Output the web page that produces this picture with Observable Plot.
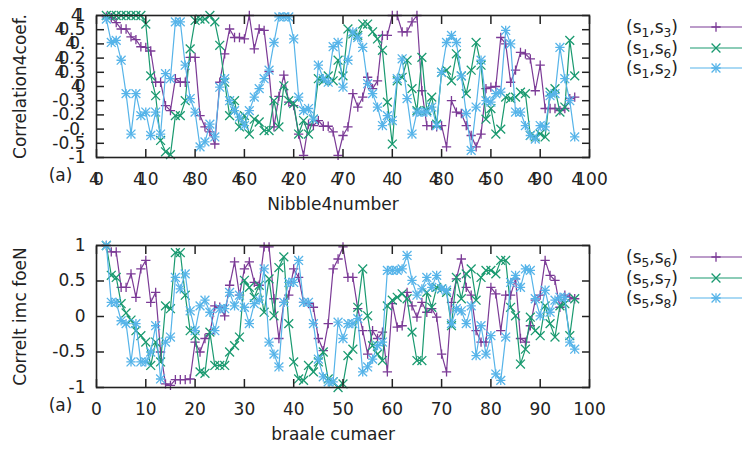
<!DOCTYPE html>
<html><head><meta charset="utf-8">
<script src="https://cdn.jsdelivr.net/npm/d3@7"></script>
<script src="https://cdn.jsdelivr.net/npm/@observablehq/plot@0.6"></script>
<style>
body{margin:0;background:#fff;font-family:"DejaVu Sans",sans-serif;}
#wrap{position:relative;width:742px;height:450px;overflow:hidden;background:#fff;}
.panel{position:absolute;left:0;}
.legend{position:absolute;left:600px;width:142px;color:#222;font-size:17px;}
.row{position:absolute;left:0;width:142px;height:20px;display:flex;align-items:center;}
.row .lab{width:78px;text-align:right;white-space:nowrap;line-height:20px;}
.row .lab sub{font-size:0.72em;vertical-align:-0.3em;line-height:0;}
.row svg{margin-left:12px;flex:none;}
</style></head>
<body><div id="wrap"></div>
<script>
const nibble = d3.range(2, 98);

const xTicks = [0,10,20,30,40,50,60,70,80,90,100];
const topXLabels = ["40","410","430","460","420","470","4 0","480","450","490","4100"];
const topYTicks = [1,0.8,0.6,0.4,0.2,0,-0.2,-0.4,-0.6,-0.8,-1];
const topYLabels = ["41","40.5","40.","40.2","40.3","40","-0.3","-0.2","-0.","-0.5","-1"];
const botXLabels = ["0","10","20","30","40","50","60","70","80","90","100"];
const botYTicks = [1,0.5,0,-0.5,-1];
const botYLabels = ["1","0.5","0","-0.5","-1"];

const topXTitle = "Nibble4number";
const topYTitle = "Correlation4coef.";
const botXTitle = "braale cumaer";
const botYTitle = "Correlt imc foeN";
const panelTag = "(a)";

const topKeys = [["1","3"],["1","6"],["1","2"]];
const botKeys = [["5","6"],["5","7"],["5","8"]];

const topS13 = [0.98,0.97,0.90,0.81,0.81,0.70,0.66,0.56,0.55,0.50,
0.06,0.06,-0.27,-0.34,0.11,0.06,0.06,0.41,0.41,-0.41,
-0.57,-0.64,-0.81,0.06,0.46,0.81,0.69,0.69,0.67,1.0,
0.53,0.81,0.79,0.21,-0.57,-0.14,0.16,-0.22,-0.27,-0.67,
-0.97,-0.53,-0.55,-0.48,-0.56,-0.56,-0.64,-0.97,-0.69,-0.57,
-0.10,-0.29,-0.15,0.13,-0.03,0.08,0.72,0.72,1.0,1.0,
0.77,0.77,0.91,1.0,-0.06,-0.55,-0.55,-0.57,-0.55,-0.85,
-0.20,-0.36,-0.38,-0.55,-0.69,-0.85,-0.67,-0.03,-0.01,0.0,
0.69,0.60,0.06,0.23,0.48,0.46,0.39,-0.06,0.30,-0.31,
-0.31,-0.31,-0.34,-0.31,-0.17,-0.15];

const topS16 = [1,1,1,1,1,1,1,1,0.88,0.15,
-0.13,-0.76,-0.92,-0.96,-0.41,-0.41,-0.20,0.53,0.93,0.95,
0.95,1.0,0.91,0.58,0.06,-0.41,-0.20,-0.57,-0.41,-0.67,
-0.46,-0.50,-0.62,-0.62,-0.20,-0.57,0.01,-0.20,-0.24,-0.67,
-0.48,-0.67,-0.46,0.11,0.08,0.15,0.08,0.37,0.15,0.81,
0.74,0.72,0.88,0.88,0.77,0.67,0.51,-0.22,-0.81,0.08,
0.13,0.37,-0.03,-0.34,0.41,-0.34,-0.15,-0.53,0.20,0.23,
0.08,0.46,0.15,-0.10,0.23,0.62,0.30,-0.46,-0.31,-0.67,
-0.60,-0.15,-0.17,-0.15,-0.08,-0.10,-0.69,-0.71,-0.67,-0.71,
-0.08,-0.03,-0.36,-0.29,0.65,0.15];

const topS12 = [0.95,0.62,0.65,0.37,-0.10,-0.67,-0.10,-0.41,-0.36,-0.69,
-0.36,-0.67,0.18,0.11,0.91,0.91,0.30,-0.17,-0.36,-0.85,
-0.78,-0.53,-0.71,-0.01,0.11,-0.20,-0.34,-0.43,-0.55,-0.34,
-0.15,-0.03,0.11,0.23,0.62,0.98,0.98,0.98,0.67,-0.15,
-0.34,-0.31,-0.46,0.30,0.11,0.06,0.56,0.62,-0.01,0.37,
0.77,0.69,0.55,0.04,-0.10,-0.29,-0.55,-0.41,-0.48,0.11,
0.39,-0.17,-0.67,-0.36,-0.36,-0.36,-0.29,-0.55,0.20,0.62,
0.72,0.62,0.15,-0.38,-0.90,-0.29,0.37,-0.20,-0.22,-0.10,
-0.08,0.79,0.60,-0.36,-0.36,-0.55,-0.69,-0.74,-0.55,-0.57,
-0.13,-0.10,0.55,0.11,-0.20,-0.71];

const botS56 = [1.0,0.91,0.91,0.41,0.41,0.60,0.27,0.67,0.79,0.20,
0.34,-0.50,-0.95,-0.97,-0.89,-0.89,-0.89,-0.88,-0.36,-0.50,
-0.31,-0.24,0.15,0.13,0.01,0.44,0.77,0.30,0.67,0.77,
0.48,0.44,0.98,0.98,0.25,-0.31,0.20,0.30,0.67,0.55,
0.20,0.18,0.13,-0.31,-0.48,-0.10,0.67,0.81,0.98,0.55,
0.55,0.11,-0.20,-0.53,-0.20,-0.31,-0.22,-0.78,0.18,-0.15,
-0.13,0.34,0.15,-0.01,0.20,0.06,0.11,-0.01,-0.53,-0.78,
0.20,0.53,0.81,0.41,0.30,-0.20,-0.36,-0.36,0.41,0.32,
-0.20,0.30,0.30,0.53,-0.31,-0.36,-0.13,0.23,0.30,0.79,
0.58,0.51,0.13,0.30,0.27,0.25];

const botS57 = [1.0,0.58,0.55,0.18,0.05,-0.05,-0.20,-0.27,-0.36,-0.69,
-0.36,-0.64,0.15,0.11,0.90,0.90,0.30,-0.20,-0.27,-0.78,
-0.80,-0.22,-0.69,-0.69,-0.69,-0.50,-0.41,-0.29,0.51,0.41,
0.27,0.44,0.06,0.53,0.01,0.69,0.84,-0.10,-0.64,-0.88,
-0.90,-0.69,-0.78,-0.64,-0.50,-0.88,-0.92,-1.0,-0.95,-0.55,
-0.46,0.13,0.67,0.01,-0.41,-0.53,-0.62,0.15,0.23,0.27,
0.32,0.25,-0.22,-0.62,-0.62,0.34,0.13,0.41,0.39,0.34,
-0.13,0.55,0.25,0.60,0.67,0.23,0.55,0.65,0.65,0.60,
0.79,0.79,0.13,0.01,-0.67,-0.46,-0.01,-0.20,-0.27,0.15,
-0.10,-0.29,0.15,0.18,-0.27,0.25];

const botS58 = [1.0,0.20,0.20,-0.06,-0.10,-0.64,-0.10,-0.64,-0.64,-0.50,
-0.13,-0.88,-0.36,-0.29,0.55,0.39,0.60,0.08,-0.20,0.15,
0.23,0.06,-0.20,0.11,0.11,0.34,0.15,0.30,0.13,-0.10,
0.18,0.23,0.67,-0.36,-0.53,-0.71,0.20,0.48,0.48,0.79,
0.20,0.20,-0.10,-0.60,-0.85,-0.92,-0.92,-0.08,-0.31,-0.10,
-0.10,-0.03,-0.78,-0.71,-0.60,-0.41,-0.36,0.65,0.65,0.65,
0.67,0.86,0.51,0.30,0.39,0.55,0.41,0.58,0.39,0.37,
-0.10,0.11,0.08,-0.10,0.15,-0.55,-0.13,-0.53,-0.27,-0.81,
-0.90,-0.29,0.48,0.58,0.41,0.67,0.65,0.25,0.01,0.37,
0.06,0.23,0.27,0.27,-0.36,-0.46];

const colors = ["#7b3a96", "#1a9a70", "#56b4e9"];
const symbolSets = [
  [{type: "plus", r: 3.1}],
  [{type: "times", r: 4.1}],
  [{type: "plus", r: 3.1}, {type: "times", r: 4.1}]
];
const d3Symbols = {plus: d3.symbolPlus, times: d3.symbolTimes};

function seriesMarks(values, color, syms) {
  const data = values.map((v, i) => ({n: nibble[i], r: v}));
  return [
    Plot.line(data, {x: "n", y: "r", stroke: color, strokeWidth: 1.2}),
    ...syms.map(s => Plot.dot(data, {x: "n", y: "r", symbol: s.type, r: s.r, stroke: color, strokeWidth: 1.3}))
  ];
}

function overlapFours(svg) {
  svg.querySelectorAll('g[aria-label$="tick label"] text').forEach(t => {
    const s = t.textContent;
    if (s.length > 1 && s[0] === "4") {
      t.textContent = "";
      const a = document.createElementNS("http://www.w3.org/2000/svg", "tspan");
      a.textContent = "4";
      const b = document.createElementNS("http://www.w3.org/2000/svg", "tspan");
      b.setAttribute("dx", "-0.4em");
      b.textContent = s.slice(1);
      t.appendChild(a); t.appendChild(b);
    }
  });
}

function panel(cfg) {
  const fmt = (ticks, labels) => d => labels[ticks.indexOf(d)];
  const svg = Plot.plot({
    width: 742, height: 225,
    marginLeft: 96, marginRight: 153, marginTop: cfg.mt, marginBottom: cfg.mb,
    style: {fontFamily: "DejaVu Sans, sans-serif", fontSize: "17px", color: "#222", background: "white", overflow: "visible"},
    x: {domain: [0, 100], label: null},
    y: {domain: [-1, 1], label: null},
    marks: [
      ...cfg.series.flatMap((vals, k) => seriesMarks(vals, colors[k], symbolSets[k])),
      Plot.frame({stroke: "#222", strokeWidth: 1.6}),
      Plot.axisX({ticks: xTicks, tickFormat: fmt(xTicks, cfg.xLabels), tickSize: -8, tickPadding: 23, strokeWidth: 1.5, label: null}),
      Plot.axisX({anchor: "top", ticks: xTicks, tickSize: -8, strokeWidth: 1.5, fill: "none", label: null}),
      Plot.axisY({ticks: cfg.yTicks, tickFormat: fmt(cfg.yTicks, cfg.yLabels), tickSize: -8, tickPadding: 19, strokeWidth: 1.5, label: null}),
      Plot.axisY({anchor: "right", ticks: cfg.yTicks, tickSize: -8, strokeWidth: 1.5, fill: "none", label: null}),
      Plot.text([cfg.xTitle], {frameAnchor: "bottom", textAnchor: "middle", dy: 52, dx: -10, text: d => d}),
      Plot.text([cfg.yTitle], {frameAnchor: "left", textAnchor: "middle", dx: -76, rotate: -90, text: d => d}),
      Plot.text([panelTag], {frameAnchor: "bottom-left", textAnchor: "middle", dx: -36, dy: 23, text: d => d})
    ]
  });
  if (cfg.overlap) overlapFours(svg);
  return svg;
}

function legend(keys, top) {
  const div = document.createElement("div");
  div.className = "legend";
  div.style.top = top + "px";
  keys.forEach((k, i) => {
    const row = document.createElement("div");
    row.className = "row";
    row.style.top = (i * 20.5) + "px";
    const lab = document.createElement("span");
    lab.className = "lab";
    lab.innerHTML = `(s<sub>${k[0]}</sub>,s<sub>${k[1]}</sub>)`;
    row.appendChild(lab);
    const s = d3.create("svg").attr("width", 52).attr("height", 20);
    s.append("line").attr("x1", 0).attr("x2", 52).attr("y1", 10).attr("y2", 10)
      .attr("stroke", colors[i]).attr("stroke-width", 1.2);
    symbolSets[i].forEach(sym => {
      s.append("path").attr("transform", "translate(26,10)")
        .attr("d", d3.symbol(d3Symbols[sym.type], Math.PI * sym.r * sym.r)())
        .attr("fill", "none").attr("stroke", colors[i]).attr("stroke-width", 1.3);
    });
    row.appendChild(s.node());
    div.appendChild(row);
  });
  return div;
}

const wrap = document.getElementById("wrap");
const p1 = document.createElement("div"); p1.className = "panel"; p1.style.top = "0px";
p1.appendChild(panel({mt: 15, mb: 68, xLabels: topXLabels, yTicks: topYTicks, yLabels: topYLabels,
  xTitle: topXTitle, yTitle: topYTitle, series: [topS13, topS16, topS12], overlap: true}));
const p2 = document.createElement("div"); p2.className = "panel"; p2.style.top = "225px";
p2.appendChild(panel({mt: 20, mb: 63, xLabels: botXLabels, yTicks: botYTicks, yLabels: botYLabels,
  xTitle: botXTitle, yTitle: botYTitle, series: [botS56, botS57, botS58], overlap: false}));
wrap.appendChild(p1);
wrap.appendChild(p2);
wrap.appendChild(legend(topKeys, 17));
wrap.appendChild(legend(botKeys, 247));
</script>
</body></html>
